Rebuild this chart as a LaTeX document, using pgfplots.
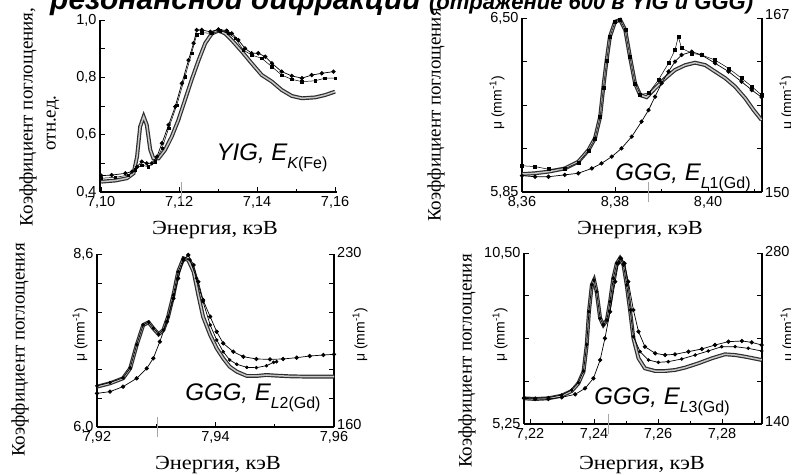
\documentclass[border=0pt]{standalone}
\usepackage{fontspec}
\setmainfont{Liberation Serif}
\setsansfont{Liberation Sans}
\usepackage{pgfplots}
\pgfplotsset{compat=1.18}

\pgfplotsset{
  panel/.style={scale only axis, anchor=south west,
    axis x line*=bottom, axis y line*=box,
    tick align=inside, major tick length=5pt, minor tick length=3pt,
    tick style={black, line width=0.8pt},
    axis line style={line width=1.4pt},
    ticklabel style={font=\sffamily\fontsize{14.5}{14.5}\selectfont},
    xticklabel style={yshift=-1pt},
    extra x tick labels={},
    extra x tick style={grid=none, tick align=center, major tick length=20pt,
      tick style={gray!70, line width=0.6pt}},
  },
  gband/.style={draw=gray!35!black, line width=1.2pt, double=gray!45, double distance=1.5pt, no markers},
  dots/.style={black, line width=0.7pt, mark=*, mark size=1.8pt},
  sqs/.style={black, line width=0.5pt, mark=square*, mark size=1.5pt},
}
\newcommand{\ylab}[1]{{\fontsize{19}{19}\selectfont #1}}
\newcommand{\xlab}[1]{{\fontsize{20}{20}\selectfont\scalebox{1.12}[1]{#1}}}
\newcommand{\mulab}{{\sffamily\fontsize{14}{14}\selectfont μ (mm\textsuperscript{-1})}}
\newcommand{\edge}[2]{{\sffamily\fontsize{24}{24}\selectfont\itshape #1, E\raisebox{-0.35em}{\fontsize{16}{16}\selectfont #2}}}

\begin{document}
\begin{tikzpicture}
\useasboundingbox (0,0) rectangle (791pt,473pt);
\clip (0,0) rectangle (791pt,473pt);

% title, cut by the top edge
\node[anchor=base west, inner sep=0pt, font=\sffamily\bfseries\itshape\fontsize{30}{30}\selectfont]
  at (50pt,463pt) {резонансной дифракции {\fontsize{22}{22}\selectfont (отражение 600 в YIG и GGG)}};

% ---------- YIG, Fe K ----------
\begin{axis}[panel, at={(100pt,281pt)}, width=237pt, height=172pt,
  axis y line*=left,
  xmin=7.0997, xmax=7.1605, ymin=0.4, ymax=1.0,
  xtick={7.10,7.12,7.14,7.16}, minor xtick={7.11,7.13,7.15},
  xticklabels={{7,10},{7,12},{7,14},{7,16}},
  ytick={0.4,0.5,...,1.0}, yticklabels={{0,4},,{0,6},,{0,8},,{1,0}},
  extra x ticks={7.1205}]
\addplot[gband] coordinates {(7.1000,0.436) (7.1036,0.440) (7.1066,0.448) (7.1083,0.465) (7.1092,0.523)
 (7.1100,0.628) (7.1109,0.663) (7.1117,0.634) (7.1126,0.547) (7.1134,0.517) (7.1147,0.517) (7.1164,0.547)
 (7.1181,0.593) (7.1198,0.651) (7.1215,0.721) (7.1232,0.791) (7.1250,0.860) (7.1267,0.919) (7.1284,0.953)
 (7.1301,0.963) (7.1318,0.953) (7.1335,0.930) (7.1361,0.890) (7.1386,0.849) (7.1412,0.808) (7.1438,0.785)
 (7.1463,0.756) (7.1489,0.735) (7.1515,0.727) (7.1549,0.730) (7.1574,0.738) (7.1600,0.750)};
\addplot[sqs, mark size=1.2pt] coordinates {(7.1000,0.448) (7.1036,0.451) (7.1070,0.459) (7.1087,0.477) (7.1104,0.494)
 (7.1121,0.488) (7.1139,0.506) (7.1156,0.552) (7.1173,0.622) (7.1194,0.703) (7.1215,0.802) (7.1232,0.884)
 (7.1245,0.948) (7.1258,0.956) (7.1284,0.953) (7.1305,0.963) (7.1327,0.953) (7.1344,0.936) (7.1365,0.895)
 (7.1386,0.878) (7.1412,0.866) (7.1438,0.837) (7.1463,0.808) (7.1489,0.793) (7.1515,0.785) (7.1549,0.788)
 (7.1574,0.797) (7.1600,0.797)};
\addplot[dots] coordinates {(7.1000,0.457) (7.1027,0.459) (7.1062,0.465) (7.1079,0.471) (7.1092,0.488)
 (7.1104,0.506) (7.1117,0.500) (7.1130,0.500) (7.1143,0.523) (7.1156,0.570) (7.1173,0.634) (7.1190,0.698)
 (7.1207,0.779) (7.1224,0.860) (7.1237,0.919) (7.1245,0.965) (7.1258,0.965) (7.1280,0.959) (7.1301,0.967)
 (7.1322,0.963) (7.1335,0.953) (7.1352,0.930) (7.1369,0.901) (7.1386,0.884) (7.1403,0.884) (7.1421,0.872)
 (7.1438,0.849) (7.1463,0.820) (7.1489,0.805) (7.1515,0.797) (7.1540,0.808) (7.1566,0.814) (7.1596,0.820)};
\end{axis}

% ---------- GGG, Gd L1 ----------
\begin{axis}[panel, at={(522pt,281pt)}, width=240pt, height=174pt,
  xmin=8.36, xmax=8.4116, ymin=5.85, ymax=6.50,
  xtick={8.36,8.38,8.40}, minor xtick={8.37,8.39,8.41},
  xticklabels={{8,36},{8,38},{8,40}},
  ytick={5.85,6.0125,6.175,6.3375,6.50}, yticklabels={{5,85},,,,{6,50}},
  extra x ticks={8.3872}]
\addplot[gband] coordinates {(8.3600,5.917) (8.3628,5.920) (8.3657,5.926) (8.3692,5.938) (8.3721,5.963)
 (8.3743,6.007) (8.3757,6.051) (8.3768,6.131) (8.3775,6.244) (8.3782,6.343) (8.3789,6.430) (8.3800,6.486)
 (8.3811,6.493) (8.3822,6.455) (8.3832,6.356) (8.3843,6.256) (8.3854,6.212) (8.3868,6.204) (8.3886,6.237)
 (8.3908,6.275) (8.3929,6.306) (8.3951,6.324) (8.3972,6.333) (8.3994,6.324) (8.4015,6.300) (8.4037,6.275)
 (8.4058,6.244) (8.4080,6.200) (8.4098,6.156) (8.4115,6.119)};
\addplot[sqs] coordinates {(8.3600,5.948) (8.3628,5.945) (8.3657,5.935) (8.3692,5.937) (8.3721,5.960)
 (8.3743,6.005) (8.3757,6.050) (8.3768,6.130) (8.3775,6.240) (8.3782,6.340) (8.3789,6.430) (8.3800,6.486)
 (8.3811,6.493) (8.3822,6.455) (8.3832,6.356) (8.3843,6.256) (8.3854,6.215) (8.3872,6.219) (8.3893,6.268)
 (8.3915,6.331) (8.3929,6.381) (8.3936,6.430) (8.3943,6.387) (8.3965,6.368) (8.3986,6.362) (8.4015,6.343)
 (8.4044,6.312) (8.4072,6.275) (8.4094,6.244) (8.4115,6.212)};
\addplot[dots] coordinates {(8.3600,5.911) (8.3628,5.907) (8.3657,5.907) (8.3692,5.914) (8.3721,5.920)
 (8.3750,5.938) (8.3771,5.957) (8.3793,5.982) (8.3814,6.013) (8.3836,6.057) (8.3857,6.113) (8.3872,6.156)
 (8.3886,6.206) (8.3900,6.256) (8.3915,6.300) (8.3929,6.337) (8.3943,6.362) (8.3965,6.374) (8.3986,6.362)
 (8.4015,6.331) (8.4044,6.300) (8.4072,6.262) (8.4094,6.231) (8.4115,6.204)};
\end{axis}

% ---------- GGG, Gd L2 ----------
\begin{axis}[panel, at={(97pt,46pt)}, width=237pt, height=172.5pt,
  xmin=7.92, xmax=7.96, ymin=6.0, ymax=8.6,
  xtick={7.92,7.94,7.96}, minor xtick={7.93,7.95},
  xticklabels={{7,92},{7,94},{7,96}},
  ytick={6.0,6.4333,6.8667,7.3,7.7333,8.1667,8.6}, yticklabels={{6,0},,,,,,{8,6}},
  extra x ticks={7.9301}]
\addplot[gband] coordinates {(7.9200,6.608) (7.9222,6.658) (7.9244,6.734) (7.9256,6.884) (7.9267,7.236)
 (7.9278,7.537) (7.9287,7.578) (7.9295,7.487) (7.9304,7.397) (7.9312,7.462) (7.9320,7.663) (7.9329,7.990)
 (7.9337,8.341) (7.9346,8.542) (7.9354,8.517) (7.9363,8.341) (7.9371,7.990) (7.9379,7.663) (7.9391,7.387)
 (7.9402,7.186) (7.9413,7.035) (7.9424,6.909) (7.9436,6.834) (7.9453,6.769) (7.9469,6.769) (7.9486,6.784)
 (7.9503,6.774) (7.9526,6.764) (7.9554,6.759) (7.9600,6.759)};
\addplot[dots, mark size=1.4pt] coordinates {(7.9200,6.620) (7.9222,6.670) (7.9244,6.740) (7.9256,6.890) (7.9267,7.240)
 (7.9278,7.540) (7.9287,7.580) (7.9295,7.490) (7.9304,7.400) (7.9312,7.460) (7.9320,7.660) (7.9329,7.990)
 (7.9337,8.340) (7.9346,8.540) (7.9357,8.517) (7.9368,8.241) (7.9379,7.889) (7.9391,7.537) (7.9402,7.311)
 (7.9413,7.135) (7.9424,7.010) (7.9436,6.945) (7.9453,6.899) (7.9469,6.894) (7.9486,6.924) (7.9498,6.975)
 (7.9503,6.985)};
\addplot[dots] coordinates {(7.9200,6.507) (7.9222,6.533) (7.9244,6.608) (7.9267,6.734) (7.9284,6.884)
 (7.9295,7.035) (7.9306,7.286) (7.9318,7.588) (7.9329,7.939) (7.9337,8.241) (7.9346,8.517) (7.9354,8.592)
 (7.9363,8.442) (7.9371,8.190) (7.9379,7.914) (7.9391,7.663) (7.9402,7.437) (7.9413,7.261) (7.9430,7.135)
 (7.9447,7.060) (7.9469,7.025) (7.9492,7.020) (7.9514,7.025) (7.9537,7.045) (7.9559,7.070) (7.9582,7.085)
 (7.9600,7.095)};
\end{axis}

% ---------- GGG, Gd L3 ----------
\begin{axis}[panel, at={(524pt,49pt)}, width=238pt, height=171pt,
  xmin=7.2181, xmax=7.2925, ymin=5.25, ymax=10.50,
  xtick={7.22,7.24,7.26,7.28}, minor xtick={7.23,7.25,7.27,7.29},
  xticklabels={{7,22},{7,24},{7,26},{7,28}},
  ytick={5.25,6.5625,7.875,9.1875,10.5}, yticklabels={{5,25},,,,{10,50}},
  extra x ticks={7.2444}]
\addplot[gband] coordinates {(7.2181,6.038) (7.2216,6.018) (7.2257,6.038) (7.2299,6.120) (7.2330,6.263)
 (7.2351,6.499) (7.2367,6.857) (7.2377,7.675) (7.2384,8.699) (7.2393,9.518) (7.2400,9.671) (7.2408,9.313)
 (7.2419,8.494) (7.2429,8.290) (7.2440,8.443) (7.2450,9.006) (7.2460,9.722) (7.2471,10.183) (7.2481,10.337)
 (7.2492,10.132) (7.2502,9.518) (7.2513,8.699) (7.2523,7.880) (7.2539,7.266) (7.2559,6.959) (7.2591,6.877)
 (7.2622,6.877) (7.2653,6.908) (7.2684,6.979) (7.2726,7.113) (7.2768,7.266) (7.2809,7.389) (7.2841,7.368)
 (7.2872,7.317) (7.2898,7.266) (7.2924,7.215)};
\addplot[dots, mark size=1.4pt] coordinates {(7.2181,6.060) (7.2216,6.040) (7.2257,6.060) (7.2299,6.140) (7.2330,6.290)
 (7.2351,6.520) (7.2367,6.880) (7.2377,7.690) (7.2384,8.700) (7.2393,9.520) (7.2400,9.671) (7.2408,9.313)
 (7.2419,8.494) (7.2429,8.290) (7.2440,8.443) (7.2450,9.006) (7.2460,9.722) (7.2471,10.183) (7.2481,10.337)
 (7.2492,10.132) (7.2502,9.518) (7.2513,8.750) (7.2523,7.930) (7.2544,7.471) (7.2570,7.215) (7.2601,7.143)
 (7.2632,7.164) (7.2674,7.246) (7.2716,7.368) (7.2757,7.491) (7.2799,7.624) (7.2841,7.624) (7.2882,7.573)
 (7.2924,7.491)};
\addplot[dots] coordinates {(7.2181,6.038) (7.2216,6.018) (7.2257,6.018) (7.2299,6.069) (7.2341,6.161)
 (7.2372,6.345) (7.2398,6.652) (7.2419,7.215) (7.2434,7.880) (7.2450,8.699) (7.2466,9.620) (7.2476,10.183)
 (7.2484,10.337) (7.2495,10.183) (7.2507,9.620) (7.2523,8.750) (7.2539,8.085) (7.2559,7.624) (7.2591,7.420)
 (7.2622,7.368) (7.2653,7.389) (7.2695,7.471) (7.2737,7.553) (7.2778,7.675) (7.2820,7.778) (7.2862,7.798)
 (7.2893,7.757) (7.2924,7.675)};
\end{axis}

% right-hand scale labels
\begin{scope}[every node/.style={font=\sffamily\fontsize{14.5}{14.5}\selectfont, anchor=west, inner sep=1pt}]
\node at (764pt,458pt) {167};
\node at (764pt,280pt) {150};
\node at (336pt,220pt) {230};
\node at (336pt,48pt) {160};
\node at (764pt,221pt) {280};
\node at (764pt,51pt) {140};
\end{scope}

% curve labels
\node at (272pt,315pt) {\edge{YIG}{K\upshape(Fe)}};
\node at (683pt,295pt) {\edge{GGG}{L\upshape1(Gd)}};
\node at (253pt,75pt) {\edge{GGG}{L\upshape2(Gd)}};
\node at (662pt,71pt) {\edge{GGG}{L\upshape3(Gd)}};

% axis titles
\node[rotate=90] at (28pt,356pt) {\ylab{Коэффициент поглощения,}};
\node[rotate=90] at (53pt,350pt) {\ylab{отн.ед.}};
\node[rotate=90] at (436pt,358pt) {\ylab{Коэффициент поглощения}};
\node[rotate=90] at (497pt,370pt) {\mulab};
\node[rotate=90] at (787pt,370pt) {\mulab};
\node[rotate=90] at (20pt,123pt) {\ylab{Коэффициент поглощения}};
\node[rotate=90] at (80pt,138pt) {\mulab};
\node[rotate=90] at (360pt,138pt) {\mulab};
\node[rotate=90] at (467pt,112pt) {\ylab{Коэффициент поглощения}};
\node[rotate=90] at (500pt,138pt) {\mulab};
\node[rotate=90] at (788pt,138pt) {\mulab};

\node at (215pt,243pt) {\xlab{Энергия, кэВ}};
\node at (640pt,243pt) {\xlab{Энергия, кэВ}};
\node at (218pt,8pt) {\xlab{Энергия, кэВ}};
\node at (642pt,8pt) {\xlab{Энергия, кэВ}};
\end{tikzpicture}
\end{document}
